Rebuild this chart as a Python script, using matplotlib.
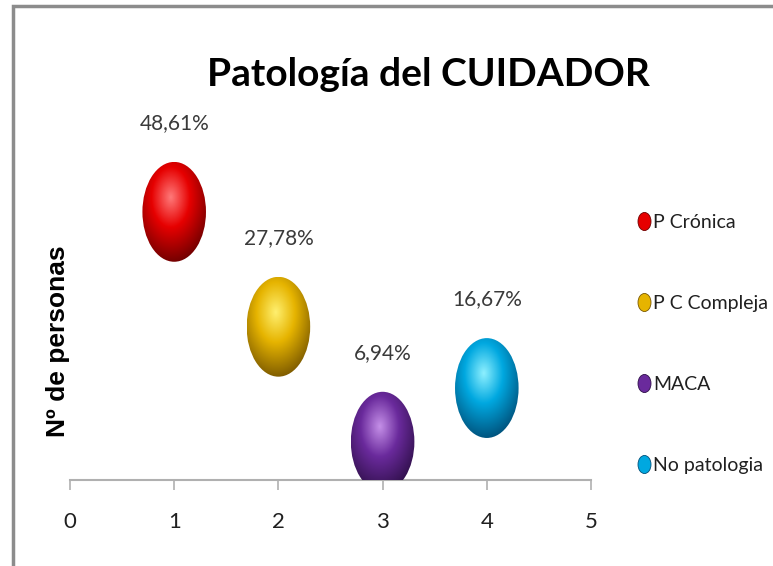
import numpy as np
import matplotlib
matplotlib.use("Agg")
import matplotlib.pyplot as plt
from matplotlib import font_manager
from matplotlib.patches import Ellipse, Rectangle
from matplotlib.lines import Line2D
from matplotlib.path import Path
from matplotlib.colors import to_rgb

# datos
categorias = ["P Crónica", "P C Compleja", "MACA", "No patologia"]
x_vals = [1, 2, 3, 4]
porcentajes = [48.61, 27.78, 6.94, 16.67]
etiquetas = ["48,61%", "27,78%", "6,94%", "16,67%"]
colores_base = ["#e60000", "#e6b400", "#6a2a9c", "#00a8e0"]
colores_luz = ["#ff7a7a", "#fff070", "#c590e8", "#8ef0ff"]
colores_osc = ["#6e0000", "#7a5800", "#2e0f48", "#00507a"]

# fuente estrecha tipo Calibri, la que haya
disponibles = {f.name for f in font_manager.fontManager.ttflist}
narrow = [f for f in ["Liberation Sans Narrow", "Lato", "Roboto"] if f in disponibles]
narrow.append("DejaVu Sans")

fig = plt.figure(figsize=(7.73, 5.66), dpi=100)
ax = fig.add_axes([70 / 773, 86 / 566, 521 / 773, 331 / 566])
ax.set_xlim(0, 5)
ax.set_ylim(0, 60)

# tamaño de la burbuja en unidades de datos
bw, bh = 0.61, 18.1


def esfera(ax, x, y, c0, c1, c2):
    n = 120
    u = np.linspace(-1, 1, n)
    U, V = np.meshgrid(u, u)
    d = np.sqrt((U + 0.1) ** 2 + (V - 0.3) ** 2)
    t = np.clip(d / 1.35, 0, 1)
    a, b, c = np.array(to_rgb(c1)), np.array(to_rgb(c0)), np.array(to_rgb(c2))
    img = np.zeros((n, n, 3))
    m1 = t < 0.45
    s = (t / 0.45)[..., None]
    img[:] = a * (1 - s) + b * s
    s2 = ((t - 0.45) / 0.55)[..., None]
    img[~m1] = (b * (1 - s2) + c * s2)[~m1]
    el = Ellipse((x, y), bw, bh, facecolor="none", edgecolor="none", clip_on=False)
    ax.add_patch(el)
    im = ax.imshow(img, extent=[x - bw / 2, x + bw / 2, y - bh / 2, y + bh / 2],
                   origin="lower", aspect="auto", interpolation="bilinear", zorder=3)
    im.set_clip_path(el)


for x, y, lab, c0, c1, c2 in zip(x_vals, porcentajes, etiquetas,
                                 colores_base, colores_luz, colores_osc):
    esfera(ax, x, y, c0, c1, c2)
    ax.annotate(lab, (x, y), xytext=(0, 64), textcoords="offset points",
                ha="center", va="center", fontsize=15, color="#3a3a3a",
                family=narrow)

ax.set_xlim(0, 5)
ax.set_ylim(0, 60)

for s in ["top", "right", "left"]:
    ax.spines[s].set_visible(False)
ax.spines["bottom"].set_color("#b0b0b0")
ax.spines["bottom"].set_linewidth(1.5)
ax.set_yticks([])
ax.set_xticks(range(6))
ax.tick_params(axis="x", direction="out", length=7, width=1.2, color="#b0b0b0",
               pad=16, labelsize=16, labelcolor="#202020")
for t in ax.get_xticklabels():
    t.set_family(narrow)

fig.suptitle("Patología del CUIDADOR", x=428 / 773, y=1 - 74 / 566, va="center",
             fontsize=28, fontweight="bold", family=narrow)

fig.text(58 / 773, 1 - 341 / 566, "Nº de personas", rotation=90, ha="center",
         va="center", fontsize=19, fontweight="bold",
         family=["Liberation Sans", "DejaVu Sans"])

# leyenda
circ = Path.unit_circle()
elipse = Path(circ.vertices * np.array([0.72, 1.0]), circ.codes)
handles = [Line2D([], [], linestyle="none", marker=elipse, markersize=13,
                  markerfacecolor=c, markeredgecolor=c2, markeredgewidth=0.6)
           for c, c2 in zip(colores_base, colores_osc)]
leg = fig.legend(handles, categorias, loc="center left",
                 bbox_to_anchor=(628 / 773, 1 - 344 / 566), frameon=False,
                 labelspacing=3.3, handlelength=0.6, handletextpad=0.2,
                 borderpad=0, prop={"family": narrow, "size": 14})
for t in leg.get_texts():
    t.set_color("#202020")

# marco
fig.patches.append(Rectangle((13 / 773, -0.1), 1.2, 1 - 6 / 566 + 0.1,
                             transform=fig.transFigure, fill=False,
                             edgecolor="#8c8c8c", linewidth=2.5))

fig.savefig("out.png", dpi=100)
